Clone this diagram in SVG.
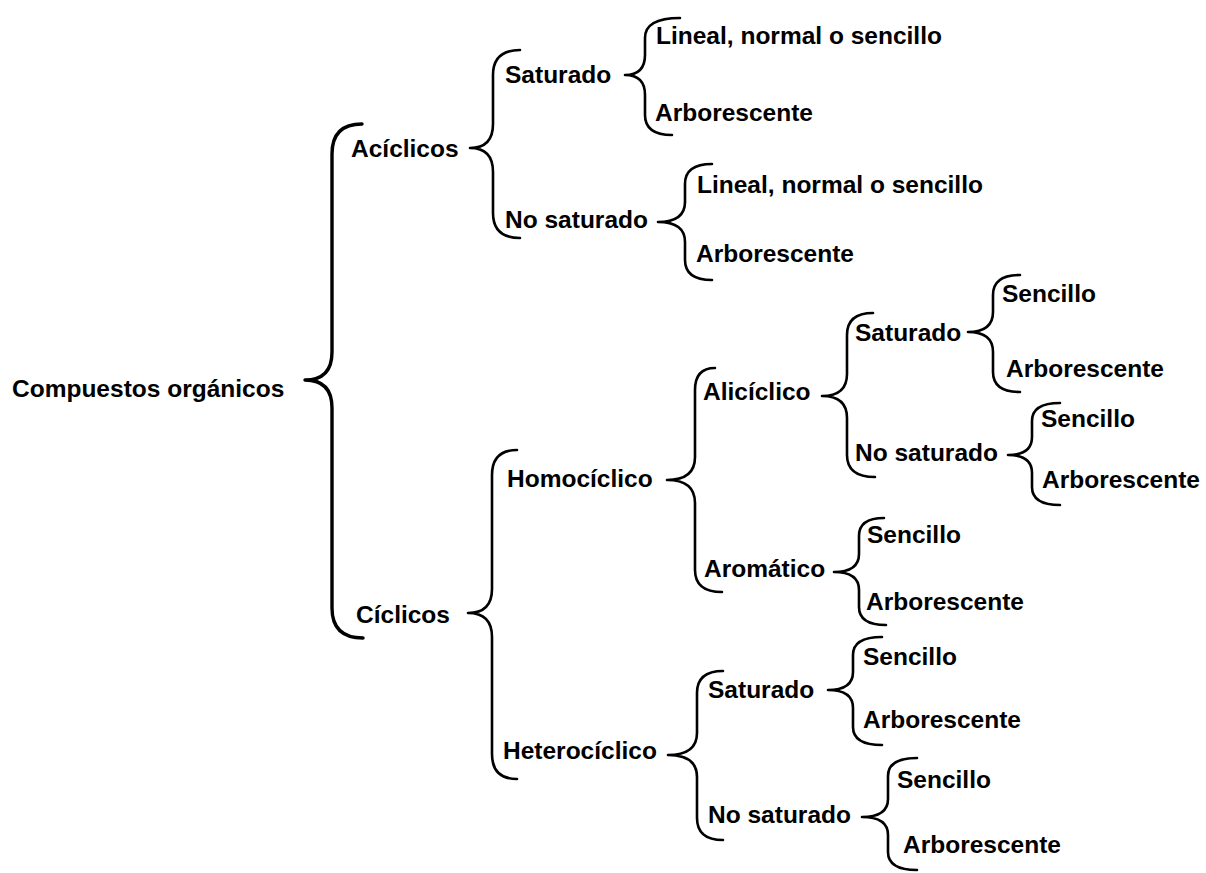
<svg xmlns="http://www.w3.org/2000/svg" width="1206" height="873" viewBox="0 0 1206 873">
<style>
.t{font-family:"Liberation Sans",Arial,sans-serif;font-weight:bold;font-size:24.5px;fill:#000}
.b{fill:none;stroke:#000;stroke-width:2.6;stroke-linecap:round;stroke-linejoin:round}
.big{stroke-width:3.4}
</style>
<rect width="1206" height="873" fill="#fff"/>
<g id="connectors">
<path class="b big" d="M362,124 Q332,124 332,154 L332,352 Q332,380 305,380 Q332,380 332,408 L332,608 Q332,638 363,638"/>
<path class="b" d="M520,50 Q493,50 493,75 L493,124 Q493,148 470,148 Q493,148 493,172 L493,213 Q493,238 520,238"/>
<path class="b" d="M680,18 Q645,18 645,38 L645,55 Q645,75 625,75 Q645,75 645,95 L645,115 Q645,135 672,135"/>
<path class="b" d="M712,164 Q685,164 685,184 L685,202 Q685,222 658,222 Q685,222 685,242 L685,260 Q685,280 712,280"/>
<path class="b" d="M517,450 Q492,450 492,475 L492,589 Q492,613 468,613 Q492,613 492,637 L492,754 Q492,779 517,779"/>
<path class="b" d="M715,368 Q695,368 695,390 L695,457 Q695,480 667,480 Q695,480 695,503 L695,570 Q695,592 722,592"/>
<path class="b" d="M873,313 Q847,313 847,335 L847,374 Q847,396 822,396 Q847,396 847,418 L847,455 Q847,477 875,477"/>
<path class="b" d="M1020,275 Q993,275 993,295 L993,312 Q993,332 968,332 Q993,332 993,352 L993,372 Q993,392 1020,392"/>
<path class="b" d="M1060,403 Q1032,403 1032,421 L1032,437 Q1032,455 1008,455 Q1032,455 1032,473 L1032,487 Q1032,505 1060,505"/>
<path class="b" d="M884,518 Q859,518 859,536 L859,554 Q859,572 834,572 Q859,572 859,590 L859,607 Q859,625 886,625"/>
<path class="b" d="M723,671 Q697,671 697,693 L697,733 Q697,755 668,755 Q697,755 697,777 L697,818 Q697,840 723,840"/>
<path class="b" d="M882,637 Q853,637 853,655 L853,672 Q853,690 828,690 Q853,690 853,708 L853,727 Q853,745 882,745"/>
<path class="b" d="M917,758 Q888,758 888,776 L888,799 Q888,817 862,817 Q888,817 888,835 L888,852 Q888,870 917,870"/>
</g>
<g id="n-root"><text class="t" x="12" y="397">Compuestos orgánicos</text></g>
<g id="n-aciclicos"><text class="t" x="351" y="157">Acíclicos</text></g>
<g id="n-ciclicos"><text class="t" x="356" y="623">Cíclicos</text></g>
<g id="n-a-sat"><text class="t" x="505" y="83">Saturado</text></g>
<g id="n-a-nosat"><text class="t" x="505" y="228">No saturado</text></g>
<g id="n-a-sat-lin"><text class="t" x="656" y="44">Lineal, normal o sencillo</text></g>
<g id="n-a-sat-arb"><text class="t" x="655" y="121">Arborescente</text></g>
<g id="n-a-nosat-lin"><text class="t" x="697" y="193">Lineal, normal o sencillo</text></g>
<g id="n-a-nosat-arb"><text class="t" x="696" y="262">Arborescente</text></g>
<g id="n-homo"><text class="t" x="507" y="487">Homocíclico</text></g>
<g id="n-hetero"><text class="t" x="503" y="759">Heterocíclico</text></g>
<g id="n-alic"><text class="t" x="703" y="400">Alicíclico</text></g>
<g id="n-arom"><text class="t" x="704" y="577">Aromático</text></g>
<g id="n-alic-sat"><text class="t" x="855" y="341">Saturado</text></g>
<g id="n-alic-nosat"><text class="t" x="855" y="461">No saturado</text></g>
<g id="n-alic-sat-sen"><text class="t" x="1002" y="302">Sencillo</text></g>
<g id="n-alic-sat-arb"><text class="t" x="1006" y="377">Arborescente</text></g>
<g id="n-alic-nosat-sen"><text class="t" x="1041" y="427">Sencillo</text></g>
<g id="n-alic-nosat-arb"><text class="t" x="1042" y="488">Arborescente</text></g>
<g id="n-arom-sen"><text class="t" x="867" y="543">Sencillo</text></g>
<g id="n-arom-arb"><text class="t" x="866" y="610">Arborescente</text></g>
<g id="n-het-sat"><text class="t" x="708" y="698">Saturado</text></g>
<g id="n-het-nosat"><text class="t" x="708" y="823">No saturado</text></g>
<g id="n-het-sat-sen"><text class="t" x="863" y="665">Sencillo</text></g>
<g id="n-het-sat-arb"><text class="t" x="863" y="728">Arborescente</text></g>
<g id="n-het-nosat-sen"><text class="t" x="897" y="788">Sencillo</text></g>
<g id="n-het-nosat-arb"><text class="t" x="903" y="853">Arborescente</text></g>
</svg>
